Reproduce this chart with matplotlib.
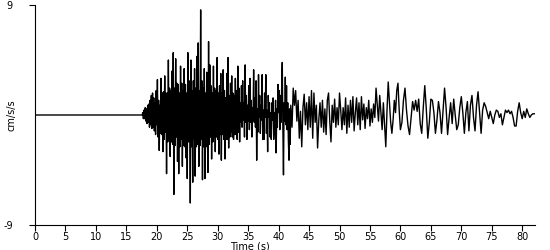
import numpy as np
import matplotlib.pyplot as plt

# Acceleration record (cm/s/s).
# Quiet pre-event part, then three sampled stretches with their own steps.
T_ONSET = 17.6

# 17.6 s .. 42.0 s, every 0.1 s (strong-motion part)
acc_strong = [
    0.0, 0.2, -0.3, 0.4, -0.3, 0.6, -0.5, 0.5, -0.7, 0.8,
    -0.6, 0.9, -1.0, 1.2, -0.8, 1.6, -1.1, 1.8, -1.0, 1.4,
    -1.3, 1.0, -1.6, 2.0, -0.8, 2.9, -1.8, 1.2, -2.9, 0.8,
    -1.5, 3.0, -1.6, 1.8, -3.0, 1.9, -2.0, 3.2, -1.4, 1.8,
    -4.8, 1.8, -2.2, 4.5, -2.0, 2.2, -3.4, 2.0, -2.2, 3.6,
    -2.4, 5.1, -6.5, 2.2, -2.5, 4.6, -1.8, 2.6, -3.8, 2.5,
    -4.8, 1.8, -2.6, 4.0, -2.0, 2.6, -4.2, 2.0, -2.5, 3.8,
    -2.6, 2.5, -3.5, 1.8, -5.2, 5.1, -2.2, 2.8, 1.6, -7.2,
    4.5, -2.6, 2.0, -5.5, 2.8, -2.0, 3.8, -5.0, 2.2, -2.6,
    4.8, -2.4, 5.9, -4.2, 2.0, -2.5, 8.6, -2.0, 2.8, -5.3,
    2.2, -2.6, 3.8, -5.2, 1.8, -2.6, 3.5, -1.6, -4.7, 6.0,
    -2.4, 4.1, -1.8, 2.4, -3.6, 1.8, -2.2, 4.0, -1.8, 2.2,
    -3.0, 2.0, -1.8, 4.7, -2.0, 1.8, -3.2, 2.4, -1.6, 3.4,
    -3.7, 1.8, -1.6, 3.7, -2.0, 2.0, -3.6, 1.4, -2.0, 3.4,
    -2.0, 4.7, -2.7, 1.6, -1.8, 2.6, -1.4, 3.2, -1.8, 1.8,
    -2.0, 1.6, -1.6, 3.0, -1.6, 2.0, -2.0, 4.0, -1.4, 2.2,
    -2.2, 1.0, -0.6, 2.4, -1.0, 2.8, -0.4, 1.0, -1.8, 4.1,
    -0.6, 1.6, -2.0, 0.8, -0.5, 2.4, -1.2, 3.0, -0.6, 1.2,
    -1.8, 0.6, -0.4, 3.7, -0.6, 1.4, -1.0, 2.8, -3.7, 0.5,
    -1.4, 3.3, -0.2, 1.6, -1.5, 0.8, -0.4, 3.3, -2.0, 0.4,
    -2.0, 1.8, -0.2, 3.3, -1.5, 0.4, -3.0, 1.6, -0.2, 1.0,
    -1.8, 0.2, -2.0, 1.0, -0.4, 1.4, -2.0, 0.2, -1.6, 1.2,
    -3.1, 0.5, -1.0, 2.5, 0.2, 2.0, -1.2, 1.6, -0.6, 2.2,
    4.3, -1.0, -4.9, 1.0, -0.5, 3.1, -0.8, 2.4, -1.2, 1.0,
    -2.0, -3.7, 0.5, -2.4, 0.8,
]
DT_STRONG = 0.1

# 42.2 s .. 60.0 s, every 0.2 s
acc_coda = [
    -1.0, 2.2, 0.8, 2.0, -0.5, 1.2, -1.9, 0.3, -2.6, 0.6,
    1.7, -0.8, 1.0, -1.2, 1.5, -1.0, 2.0, -1.9, 1.8, -0.6,
    0.8, -2.7, -0.4, 1.0, -1.0, 1.2, -1.4, 0.5, -1.6, 1.2,
    1.8, -0.5, -2.2, 0.8, -0.6, 1.3, -1.0, 0.6, -0.8, 1.8,
    0.4, -1.2, 0.6, -0.8, 1.4, -1.5, 0.8, -1.0, 1.2, -0.6,
    1.5, -1.3, 0.2, 1.4, -0.8, 1.0, -1.2, 1.5, -0.4, 0.9,
    -1.1, 0.6, -0.3, 1.2, -0.9, 0.5, -0.6, 0.9, -0.2, 2.2,
    0.8, -0.5, 1.6, 0.2, -1.2, 1.0, -0.8, -2.6, 0.4, 2.7,
    1.0, -0.6, -1.5, -0.4, 1.2, 0.2, 2.0, 2.6, 0.4, -1.2,
]
DT_CODA = 0.2

# 60.25 s .. 82.0 s, every 0.25 s
acc_tail = [
    -0.6, 1.2, 2.2, 0.4, -0.9, -1.6, -0.2, 1.1, 0.4, 1.2,
    0.3, 1.3, -0.7, -1.5, 0.6, 2.4, 0.5, -1.9, -0.6, 1.3,
    1.2, 0.2, -1.5, -0.4, 1.1, 0.2, -1.5, 0.4, 2.2, 0.6,
    -1.6, -0.2, 1.0, -0.7, 1.3, 0.0, -1.2, -0.8, 0.6, 1.5,
    0.2, -1.5, 0.2, 1.1, -1.3, 0.8, 1.6, -0.2, -1.3, 0.8,
    1.9, 0.2, -1.5, 0.4, 1.0, 0.7, 0.2, -0.3, 0.3, -0.2,
    -0.7, 0.0, 0.4, 0.3, -0.2, 0.1, -0.8, -0.2, 0.4, 0.2,
    0.4, 0.1, 0.3, -0.2, -0.9, -0.9, 0.3, 1.0, 0.2, -0.3,
    0.3, -0.2, 0.5, 0.1, -0.2, 0.0, 0.1, 0.1,
]
DT_TAIL = 0.25

X_TICKS = list(range(0, 85, 5))
Y_TICKS = [-9, 9]

t_strong = T_ONSET + DT_STRONG * np.arange(len(acc_strong))
t_coda = t_strong[-1] + DT_CODA * np.arange(1, len(acc_coda) + 1)
t_tail = t_coda[-1] + DT_TAIL * np.arange(1, len(acc_tail) + 1)

t = np.concatenate([[0.0], t_strong, t_coda, t_tail])
acc = np.concatenate([[0.0], acc_strong, acc_coda, acc_tail])

plt.rcParams.update({
    "font.family": "DejaVu Sans",
    "font.size": 7,
    "axes.linewidth": 0.8,
    "axes.unicode_minus": False,
})

fig = plt.figure(figsize=(5.5, 2.5), dpi=100)
ax = fig.add_axes([35 / 550, 25 / 250, 500 / 550, 220 / 250])

ax.plot(t, acc, color="black", linewidth=1.0)

ax.set_xlim(0, 82.1)
ax.set_ylim(-9, 9)

ax.spines["top"].set_visible(False)
ax.spines["right"].set_visible(False)

ax.set_xticks(X_TICKS)
ax.set_yticks(Y_TICKS)
ax.tick_params(axis="x", direction="out", length=4, width=0.8, pad=1,
               labelsize=7)
ax.tick_params(axis="y", direction="out", length=4, width=0.8, pad=12,
               labelsize=7)

ax.set_xlabel("Time (s)", fontsize=7)
ax.xaxis.set_label_coords(0.43, -0.075)
ax.set_ylabel("cm/s/s", fontsize=7)
ax.yaxis.set_label_coords(-0.036, 0.5)

fig.savefig("out.png", dpi=100)
